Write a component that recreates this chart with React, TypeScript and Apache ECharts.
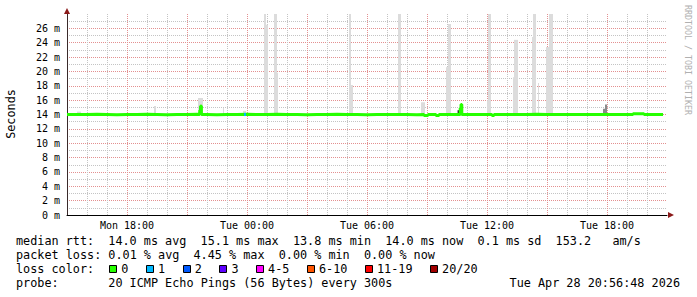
import React, { useEffect, useRef } from 'react';
import * as echarts from 'echarts';

// ---- data ----
const xTickHours = [3, 9, 15, 21, 27];
const xTickLabels = ['Mon 18:00', 'Tue 00:00', 'Tue 06:00', 'Tue 12:00', 'Tue 18:00'];

// median rtt samples: [hour since Mon 15:00, ms]
const medianSamples: [number, number][] = [
  [0, 14.0], [0.5, 14.0], [1, 14.05], [1.5, 14.0], [2, 13.95], [2.5, 14.0], [3, 14.0], [3.5, 14.05],
  [4, 14.0], [4.5, 13.95], [5, 14.0], [5.5, 14.0], [6, 14.05], [6.5, 14.0], [6.64, 14.6], [6.68, 15.2],
  [6.72, 14.0], [7, 13.95], [7.5, 14.0], [8, 14.0], [8.5, 14.05], [9, 14.0], [9.5, 14.0], [10, 14.05],
  [10.5, 14.0], [11, 14.0], [11.5, 13.95], [12, 14.0], [12.5, 14.0], [13, 14.05], [13.5, 14.0], [14, 14.0],
  [14.5, 13.95], [15, 14.0], [15.5, 14.0], [16, 14.0], [16.5, 14.0], [17, 13.95], [17.5, 14.0], [17.85, 13.85],
  [18.05, 14.0], [18.45, 13.85], [18.6, 14.0], [19, 14.0], [19.5, 14.0], [19.66, 14.9], [19.7, 15.4], [19.74, 14.0],
  [20, 14.0], [20.5, 14.0], [21, 14.0], [21.25, 13.85], [21.35, 14.0], [21.5, 14.0], [22, 14.0], [22.5, 14.0],
  [23, 14.05], [23.5, 14.0], [24, 14.0], [24.5, 14.0], [25, 14.0], [25.5, 14.0], [26, 14.0], [26.5, 14.0],
  [27, 14.0], [27.5, 14.0], [28, 14.0], [28.3, 14.1], [28.85, 14.0], [29.3, 14.0], [29.8, 14.0],
];

// smoke (ping spread): [start hour, end hour, low ms, high ms, shade 0=light 1=mid 2=dark]
const smokeBars: [number, number, number, number, number][] = [
  [0.5, 0.7, 14.0, 14.4, 0],
  [4.35, 4.45, 14.0, 15.2, 0],
  [6.55, 6.8, 14.0, 16.3, 0],
  [6.62, 6.68, 14.0, 15.1, 2],
  [7.8, 7.85, 14.0, 14.9, 0],
  [8.8, 8.95, 14.0, 14.5, 0],
  [9.85, 9.95, 14.0, 28.2, 0],
  [9.95, 10.05, 14.0, 26.5, 0],
  [10.35, 10.5, 14.0, 28.2, 0],
  [10.5, 10.55, 14.0, 19.8, 0],
  [14.1, 14.2, 14.0, 28.2, 0],
  [14.2, 14.3, 14.0, 18.1, 0],
  [16.55, 16.7, 14.0, 28.2, 0],
  [17.7, 17.9, 14.0, 15.7, 0],
  [18.95, 19.1, 14.0, 20.6, 0],
  [19.05, 19.2, 14.0, 26.6, 0],
  [19.53, 19.66, 13.9, 14.6, 2],
  [21.0, 21.1, 14.0, 16.0, 0],
  [21.05, 21.2, 14.0, 28.2, 0],
  [22.3, 22.4, 14.0, 19.2, 0],
  [22.35, 22.55, 14.0, 24.4, 0],
  [23.25, 23.35, 14.0, 24.8, 0],
  [23.3, 23.45, 14.0, 28.2, 0],
  [23.55, 23.6, 14.0, 18.4, 0],
  [23.95, 24.1, 14.0, 23.4, 0],
  [24.1, 24.3, 14.0, 28.2, 0],
  [26.8, 26.9, 14.0, 14.8, 1],
  [26.9, 27.0, 14.0, 15.4, 1],
];

// samples with packet loss: [start hour, end hour, median ms, lost pings]
const lossSamples: [number, number, number, number][] = [
  [8.85, 8.95, 14.0, 1],
];

const lossLabels = ['0', '1', '2', '3', '4-5', '6-10', '11-19', '20/20'];
const lossColors = ['#26ff00', '#00b8ff', '#0059ff', '#5e00ff', '#ff00ff', '#ff5500', '#ff0000', '#a10000'];

const rttLine = 'median rtt:  14.0 ms avg  15.1 ms max  13.8 ms min  14.0 ms now  0.1 ms sd  153.2   am/s';
const lossLine = 'packet loss: 0.01 % avg  4.45 % max  0.00 % min  0.00 % now';
const colorLine = 'loss color:';
const probeLine = 'probe:       20 ICMP Echo Pings (56 Bytes) every 300s';
const stampText = 'Tue Apr 28 20:56:48 2026';

// ---- styling ----
const MONO = 'DejaVu Sans Mono';
const FS = 11.8;
const CW = 7.1;
const TX = 16;
const shadeColors = ['#dcdcdc', '#8a8a8a', '#1a1a1a'];
const MAJOR = '#e39090';
const MINOR = '#c4c4c4';

function lossColorIndex(n: number) {
  if (n <= 3) return n;
  if (n <= 5) return 4;
  if (n <= 10) return 5;
  if (n <= 19) return 6;
  return 7;
}

function textTokens(line: string, y: number) {
  const out: any[] = [];
  const re = /\S+(?: \S+)*/g;
  let m: RegExpExecArray | null;
  while ((m = re.exec(line))) {
    out.push({
      type: 'text',
      x: TX + m.index * CW,
      y,
      style: { text: m[0], fontFamily: MONO, fontSize: FS, fill: '#000', verticalAlign: 'middle', align: 'left' },
    });
  }
  return out;
}

export default function App() {
  const ref = useRef<HTMLDivElement>(null);
  useEffect(() => {
    document.body.style.margin = '0';
    const chart = echarts.init(ref.current!, undefined, { renderer: 'svg' });

    const xGridColors: string[] = [];
    for (let i = 0; i <= 31; i++) xGridColors.push(i === 0 || i === 30 ? 'rgba(0,0,0,0)' : i % 3 === 0 ? MAJOR : MINOR);
    const yGridColors: string[] = [];
    for (let i = 0; i <= 29; i++) yGridColors.push(i === 0 || i >= 28 ? 'rgba(0,0,0,0)' : i % 2 === 0 ? MAJOR : MINOR);

    const graphics: any[] = [];
    graphics.push(...textTokens(rttLine, 241));
    graphics.push(...textTokens(lossLine, 255));
    graphics.push(...textTokens(colorLine, 269));
    graphics.push(...textTokens(probeLine, 283));
    graphics.push({
      type: 'text', x: 680, y: 283,
      style: { text: stampText, fontFamily: MONO, fontSize: FS, fill: '#000', verticalAlign: 'middle', align: 'right' },
    });
    let bx = 109.3;
    lossLabels.forEach((lab, i) => {
      graphics.push({
        type: 'rect', shape: { x: Math.round(bx) + 0.5, y: 265.5, width: 7, height: 7 },
        style: { fill: lossColors[i], stroke: '#000', lineWidth: 1 },
      });
      graphics.push({
        type: 'text', x: bx + 12, y: 269,
        style: { text: lab, fontFamily: MONO, fontSize: FS, fill: '#000', verticalAlign: 'middle', align: 'left' },
      });
      bx += 36.7 + CW * (lab.length - 1);
    });
    graphics.push({
      type: 'text', x: 11, y: 114, rotation: Math.PI / 2,
      style: { text: 'Seconds', fontFamily: MONO, fontSize: FS, fill: '#000', align: 'center', verticalAlign: 'middle' },
    });
    graphics.push({
      type: 'text', x: 688, y: 60, rotation: -Math.PI / 2,
      style: { text: 'RRDTOOL / TOBI OETIKER', fontFamily: MONO, fontSize: 8.3, fill: '#b0b0b0', align: 'center', verticalAlign: 'middle' },
    });
    graphics.push({ type: 'polygon', shape: { points: [[64, 14], [70, 14], [67, 8]] }, style: { fill: '#8b1a1a' }, z: 100 });
    graphics.push({ type: 'polygon', shape: { points: [[668, 212], [668, 218], [674, 215]] }, style: { fill: '#8b1a1a' }, z: 100 });

    const option: any = {
      animation: false,
      backgroundColor: '#ffffff',
      grid: { left: 67, right: 30, top: 14, bottom: 82, containLabel: false },
      xAxis: {
        type: 'value', min: 0, max: 30, interval: 1,
        axisLine: { show: true, onZero: false, lineStyle: { color: '#000', width: 1 } },
        axisTick: { show: false },
        axisLabel: {
          formatter: (v: number) => { const i = xTickHours.indexOf(v); return i >= 0 ? xTickLabels[i] : ''; },
          fontFamily: MONO, fontSize: 10, color: '#000', margin: 5,
        },
        splitLine: { show: true, lineStyle: { color: xGridColors, type: [1, 1], width: 1 } },
      },
      yAxis: {
        type: 'value', min: 0, max: 28, interval: 1,
        axisLine: { show: true, onZero: false, lineStyle: { color: '#3a2a2a', width: 1 } },
        axisTick: { show: false },
        axisLabel: {
          formatter: (v: number) => (Number.isInteger(v) && v % 2 === 0 && v < 28 ? `${v} m` : ''),
          fontFamily: MONO, fontSize: 10, color: '#000', margin: 7,
        },
        splitLine: { show: true, lineStyle: { color: yGridColors, type: [1, 1], width: 1 } },
      },
      series: [
        {
          type: 'custom', clip: true, z: 2,
          data: smokeBars,
          encode: { x: [0, 1], y: [2, 3] },
          renderItem: (params: any, api: any) => {
            const p0 = api.coord([api.value(0), api.value(3)]);
            const p1 = api.coord([api.value(1), api.value(2)]);
            const cs = params.coordSys;
            const shape = echarts.graphic.clipRectByRect(
              { x: p0[0], y: p0[1], width: p1[0] - p0[0], height: p1[1] - p0[1] },
              { x: cs.x, y: cs.y, width: cs.width, height: cs.height },
            );
            if (!shape) return null;
            return { type: 'rect', shape, style: { fill: shadeColors[api.value(4)] } };
          },
        },
        {
          type: 'line', z: 3, step: 'end', symbol: 'none', showSymbol: false,
          data: medianSamples,
          lineStyle: { color: lossColors[0], width: 3 },
        },
        {
          type: 'custom', z: 4,
          data: lossSamples,
          encode: { x: [0, 1], y: 2 },
          renderItem: (params: any, api: any) => {
            const p0 = api.coord([api.value(0), api.value(2)]);
            const p1 = api.coord([api.value(1), api.value(2)]);
            return {
              type: 'rect',
              shape: { x: p0[0], y: p0[1] - 1.5, width: p1[0] - p0[0], height: 3 },
              style: { fill: lossColors[lossColorIndex(api.value(3))] },
            };
          },
        },
      ],
      graphic: graphics,
    };
    chart.setOption(option);
    return () => chart.dispose();
  }, []);
  return <div ref={ref} style={{ width: 697, height: 297 }} />;
}
